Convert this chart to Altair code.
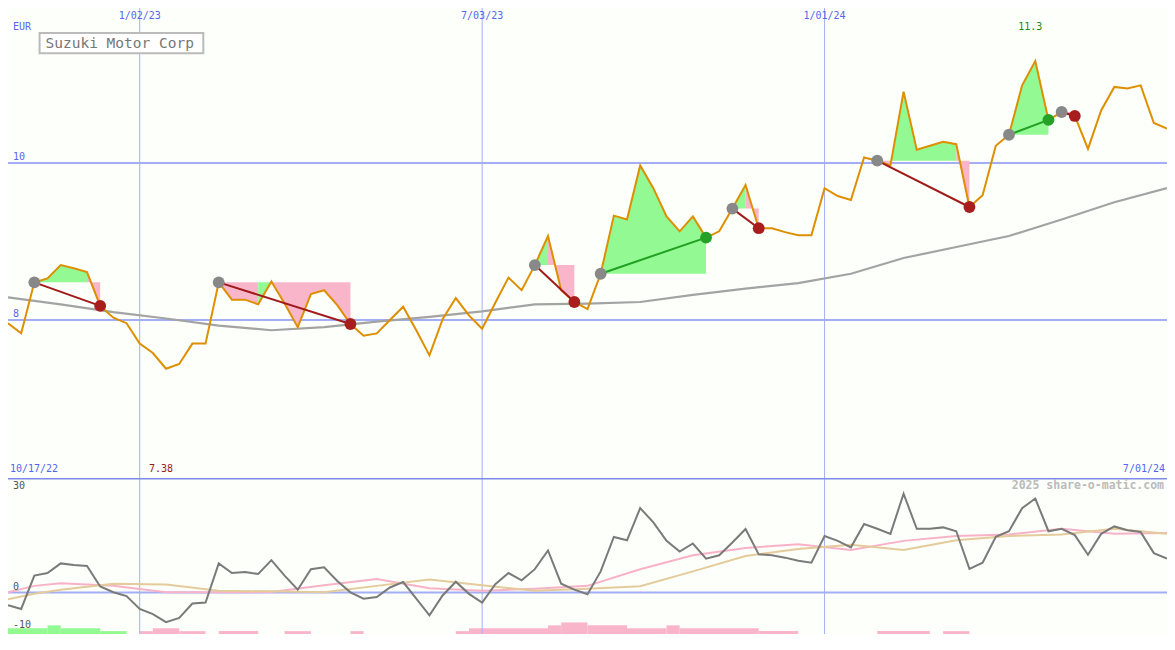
import altair as alt
import pandas as pd

# ---------------- data ----------------
start = pd.Timestamp("2022-10-24")
dates = pd.date_range(start, "2024-07-01", freq="7D")  # weekly closes

price = [7.96, 7.83, 8.48, 8.53, 8.70, 8.66, 8.61, 8.18, 8.03, 7.96,
         7.70, 7.58, 7.38, 7.44, 7.70, 7.70, 8.48, 8.26, 8.26, 8.20,
         8.49, 8.21, 7.91, 8.33, 8.38, 8.19, 7.95, 7.80, 7.83, 8.00,
         8.17, 7.87, 7.55, 8.01, 8.28, 8.06, 7.89, 8.22, 8.54, 8.38,
         8.70, 9.07, 8.38, 8.23, 8.14, 8.59, 9.33, 9.28, 9.97, 9.68,
         9.32, 9.13, 9.32, 9.05, 9.13, 9.42, 9.72, 9.17, 9.17, 9.12,
         9.08, 9.08, 9.68, 9.58, 9.53, 10.07, 10.03, 9.97, 10.91, 10.17,
         10.22, 10.27, 10.24, 9.44, 9.59, 10.22, 10.36, 10.99, 11.30, 10.55,
         10.65, 10.60, 10.18, 10.67, 10.97, 10.95, 10.99, 10.51, 10.44]

osc = [-3.28, -4.29, 4.46, 5.12, 7.64, 7.23, 6.98, 1.59, 0.08, -0.93,
       -4.29, -5.62, -7.74, -6.63, -2.85, -2.60, 7.64, 5.12, 5.37, 4.87,
       8.50, 4.46, 0.76, 6.13, 6.63, 3.02, 0.08, -1.59, -1.18, 1.34,
       2.77, -1.59, -5.97, -0.76, 2.85, -0.33, -2.60, 2.19, 5.12, 3.20,
       6.13, 11.02, 2.34, 0.76, -0.43, 5.55, 14.55, 13.69, 22.11, 18.40,
       13.54, 10.76, 12.86, 8.90, 9.76, 13.11, 16.64, 10.01, 9.76, 9.15,
       8.32, 7.81, 14.80, 13.54, 11.85, 17.97, 16.71, 15.38, 25.89, 16.71,
       16.71, 17.07, 16.06, 6.23, 7.81, 14.62, 16.06, 22.11, 24.63, 16.06,
       16.71, 15.05, 9.91, 15.38, 17.32, 16.31, 15.88, 10.34, 8.90]

ma_weeks = [0, 4, 8, 12, 16, 20, 24, 28, 32, 36, 40, 44, 48, 52, 56, 60,
            64, 68, 72, 76, 80, 84, 88]
ma_long = [8.29, 8.20, 8.10, 8.02, 7.93, 7.87, 7.91, 7.98, 8.04, 8.11, 8.20,
           8.21, 8.23, 8.32, 8.40, 8.47, 8.59, 8.79, 8.93, 9.07, 9.28, 9.50, 9.68]

sig_weeks = [0, 2, 4, 8, 12, 16, 20, 24, 28, 32, 36, 40, 44, 48, 52, 56, 60,
             64, 68, 72, 76, 80, 84, 88]
pink_sig = [0.08, 1.76, 2.44, 1.76, 0.08, 0.08, 0.13, 1.94, 3.53, 1.13, 0.50,
            1.01, 1.76, 6.13, 9.76, 11.67, 12.68, 11.17, 13.54, 14.80, 15.20,
            16.71, 15.38, 15.63]
tan_sig = [-1.76, -0.33, 0.76, 2.34, 2.14, 0.50, 0.33, 0.08, 1.76, 3.40, 1.90,
           0.50, 1.01, 1.64, 5.55, 9.58, 11.42, 12.50, 11.17, 13.69, 14.80,
           15.20, 16.71, 15.38]

bar_from = [0, 3, 4, 7, 10, 11, 13, 16, 21, 26, 34, 35, 41, 42, 44, 47, 50, 51, 57, 66, 71]
bar_to = [3, 4, 7, 9, 11, 13, 15, 19, 23, 27, 35, 41, 42, 44, 47, 50, 51, 57, 60, 70, 73]
bar_level = [2, 3, 2, 1, 1, 2, 1, 1, 1, 1, 1, 2, 3, 4, 3, 2, 3, 2, 1, 1, 1]
bar_kind = ["up", "up", "up", "up"] + ["down"] * 17

entry_idx = [2, 16, 40, 45, 55, 66, 76, 80]
exit_idx = [7, 26, 43, 53, 57, 73, 79, 81]

grid_dates = ["2023-01-02", "2023-07-03", "2024-01-01"]
grid_labels = ["1/02/23", "7/03/23", "1/01/24"]
price_grid = [8, 10]
price_grid_labels = ["8", "10"]

# ---------------- style / layout ----------------
W = 1159
H_TOP = 470
H_BOT = 156
sx = W / 1175
sy = (H_TOP + H_BOT) / 650
FONT = "DejaVu Sans Mono"
BLUE = "#5566ee"
GRID = "#a3aef5"
UP_FILL = "#93f993"
DOWN_FILL = "#f9b6cb"
COLORS = {"up": UP_FILL, "down": DOWN_FILL, "entry": "#888888",
          "win": "#26a026", "loss": "#a81e1e"}
LINE_COLORS = {"win": "#22a022", "loss": "#a01a1a"}

xs = alt.Scale(domain=[0, 88], nice=False, zero=False)
ys_top = alt.Scale(domain=[5.988, 11.975], nice=False, zero=False)
ys_bot = alt.Scale(domain=[-10.84, 30], nice=False, zero=False)


def X(f):
    return alt.X(f, type="quantitative", scale=xs, axis=None)


def YT(f):
    return alt.Y(f, type="quantitative", scale=ys_top, axis=None)


def YB(f):
    return alt.Y(f, type="quantitative", scale=ys_bot, axis=None)


def label(text, x, y, color, size, align="left", baseline="middle", weight="normal"):
    return alt.Chart(pd.DataFrame({"t": [text]})).mark_text(
        align=align, baseline=baseline, color=color, fontSize=size,
        font=FONT, fontWeight=weight
    ).encode(x=alt.value(x), y=alt.value(y), text="t:N")


weeks = list(range(len(dates)))
dfp = pd.DataFrame({"w": weeks, "price": price, "osc": osc})
gw = [(pd.Timestamp(d) - start).days / 7 for d in grid_dates]
dgrid = pd.DataFrame({"w": gw, "lab": grid_labels})

# fills between trade entry level and price, grouped into same-colour runs
rows = []
for t, (a, b) in enumerate(zip(entry_idx, exit_idx)):
    ep = price[a]
    prev = None
    run = 0
    for i in range(a, b):
        d = "up" if price[i + 1] > ep else "down"
        if d != prev:
            run += 1
            rows.append(dict(seg=f"{t}-{run}", w=i, price=price[i], entry=ep, col=COLORS[d]))
        rows.append(dict(seg=f"{t}-{run}", w=i + 1, price=price[i + 1], entry=ep, col=COLORS[d]))
        prev = d
dfill = pd.DataFrame(rows)

dtr = pd.DataFrame({
    "w0": entry_idx, "p0": [price[a] for a in entry_idx],
    "w1": exit_idx, "p1": [price[b] for b in exit_idx],
})
dtr["res"] = ["win" if p1 > p0 else "loss" for p0, p1 in zip(dtr.p0, dtr.p1)]
dtr["col"] = [LINE_COLORS[r] for r in dtr.res]

dots = pd.concat([
    pd.DataFrame({"w": dtr.w0, "p": dtr.p0, "col": COLORS["entry"]}),
    pd.DataFrame({"w": dtr.w1, "p": dtr.p1, "col": [COLORS[r] for r in dtr.res]}),
])

# ---------------- top panel ----------------
dpg = pd.DataFrame({"v": price_grid, "lab": price_grid_labels})
hgrid = alt.Chart(dpg).mark_rule(color=GRID, strokeWidth=2, clip=True).encode(y=YT("v"))
hgrid_lab = alt.Chart(dpg).mark_text(
    align="left", baseline="bottom", dy=-1, color=BLUE, fontSize=10, font=FONT
).encode(x=alt.value(5 * sx), y=YT("v"), text="lab:N")
vgrid = alt.Chart(dgrid).mark_rule(color=GRID, strokeWidth=1, clip=True).encode(x=X("w"))
vgrid_lab = alt.Chart(dgrid).mark_text(
    baseline="middle", color=BLUE, fontSize=10, font=FONT
).encode(x=X("w"), y=alt.value(8 * sy), text="lab:N")

fill = alt.Chart(dfill).mark_area(opacity=1, interpolate="linear", clip=True).encode(
    x=X("w"), y=YT("price"), y2="entry",
    color=alt.Color("col:N", scale=None),
    detail="seg:N",
)
ma = alt.Chart(pd.DataFrame({"w": ma_weeks, "v": ma_long})).mark_line(
    color="#a3a3a3", strokeWidth=2.2, clip=True).encode(x=X("w"), y=YT("v"))
pline = alt.Chart(dfp).mark_line(color="#dd8f00", strokeWidth=2, clip=True).encode(
    x=X("w"), y=YT("price"))
trade = alt.Chart(dtr).mark_rule(strokeWidth=2).encode(
    x=X("w0"), x2="w1", y=YT("p0"), y2="p1",
    color=alt.Color("col:N", scale=None),
)
dot = alt.Chart(dots).mark_circle(size=140, opacity=1).encode(
    x=X("w"), y=YT("p"), color=alt.Color("col:N", scale=None),
)

imin = price.index(min(price))
imax = price.index(max(price))
minlab = alt.Chart(pd.DataFrame({"w": [imin], "t": [f"{min(price):.2f}"]})).mark_text(
    baseline="middle", dx=-5, color="#a01818", fontSize=10, font=FONT
).encode(x=X("w"), y=alt.value(479 * sy), text="t:N")
maxlab = alt.Chart(pd.DataFrame({"w": [imax], "t": [f"{max(price):.1f}"]})).mark_text(
    baseline="middle", dx=-5, color="#1a8a1a", fontSize=10, font=FONT
).encode(x=X("w"), y=alt.value(20 * sy), text="t:N")

box = alt.Chart(pd.DataFrame({"a": [0]})).mark_rect(
    fill="white", stroke="#bbbbbb", strokeWidth=2
).encode(x=alt.value(32 * sx), x2=alt.value(198 * sx),
         y=alt.value(26 * sy), y2=alt.value(47 * sy))

top = alt.layer(
    hgrid, vgrid, fill, ma, pline, trade, dot, box,
    label("Suzuki Motor Corp", 38 * sx, 37 * sy, "#777777", 14.5),
    label("EUR", 5 * sx, 20 * sy, BLUE, 10),
    hgrid_lab, vgrid_lab, minlab, maxlab,
    label("10/17/22", 2 * sx, 479 * sy, BLUE, 10),
    label(f"{dates[-1].month}/{dates[-1].day:02d}/{dates[-1].strftime('%y')}",
          1173 * sx, 479 * sy, BLUE, 10, align="right"),
).properties(width=W, height=H_TOP)

# ---------------- bottom panel ----------------
dbar = pd.DataFrame({"w0": bar_from, "w1": bar_to, "lvl": bar_level, "z": 0,
                     "col": [COLORS[k] for k in bar_kind]})
bars = alt.Chart(dbar).mark_rect().encode(
    x=X("w0"), x2="w1",
    y=alt.Y("lvl:Q", scale=alt.Scale(domain=[0, 54], nice=False, zero=True), axis=None),
    y2="z",
    color=alt.Color("col:N", scale=None),
)
dz = pd.DataFrame({"v": [0, -10], "lab": ["0", "-10"]})
zrule = alt.Chart(pd.DataFrame({"v": [0]})).mark_rule(
    color=GRID, strokeWidth=2, clip=True).encode(y=YB("v"))
zlab = alt.Chart(dz).mark_text(align="left", baseline="bottom", dy=-1, color="#555555",
                               fontSize=10, font=FONT).encode(
    x=alt.value(5 * sx), y=YB("v"), text="lab:N")
vgrid_b = alt.Chart(dgrid).mark_rule(color=GRID, strokeWidth=1, clip=True).encode(x=X("w"))
pinkl = alt.Chart(pd.DataFrame({"w": sig_weeks, "v": pink_sig})).mark_line(
    color="#f8b2c8", strokeWidth=2, clip=True).encode(x=X("w"), y=YB("v"))
tanl = alt.Chart(pd.DataFrame({"w": sig_weeks, "v": tan_sig})).mark_line(
    color="#e3cb9b", strokeWidth=2, clip=True).encode(x=X("w"), y=YB("v"))
oscl = alt.Chart(dfp).mark_line(color="#7a7a7a", strokeWidth=2, clip=True).encode(
    x=X("w"), y=YB("osc"))
sep = alt.Chart(pd.DataFrame({"a": [0]})).mark_rule(
    color="#7b8ae8", strokeWidth=2, clip=True).encode(y=alt.value(0.5))

bottom = alt.layer(
    bars, zrule, vgrid_b, pinkl, tanl, oscl, sep, zlab,
    label("30", 5 * sx, 8 * sy, "#555555", 10),
    label("2025 share-o-matic.com", 1172 * sx, 8 * sy, "#bbbbbb", 11.5,
          align="right", weight="bold"),
).resolve_scale(y="independent").properties(width=W, height=H_BOT)

chart = alt.vconcat(top, bottom, spacing=0, padding=0, background="#fdfffa").configure_view(
    stroke=None)

chart.save("out.html", embed_options={"renderer": "svg", "actions": False})
